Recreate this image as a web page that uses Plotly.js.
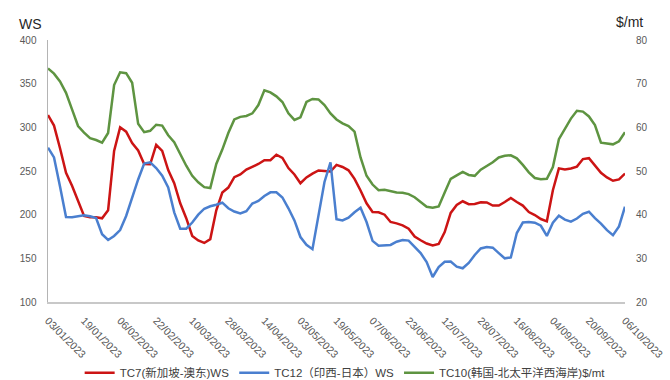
<!DOCTYPE html>
<html>
<head>
<meta charset="utf-8">
<script src="https://cdn.plot.ly/plotly-3.0.1.min.js"></script>
<style>html,body{margin:0;padding:0;background:#fff;}#chart{width:670px;height:380px;}</style>
</head>
<body>
<div id="chart"></div>
<script>
// x tick labels (every 12 business days; series sampled every 2 business days)
const tickLabels = ["03/01/2023","19/01/2023","06/02/2023","22/02/2023","10/03/2023","28/03/2023","14/04/2023","03/05/2023","19/05/2023","07/06/2023","23/06/2023","12/07/2023","28/07/2023","16/08/2023","04/09/2023","20/09/2023","06/10/2023"];
const tickPositions = [0,6,12,18,24,30,36,42,48,54,60,66,72,78,84,90,96];

const seriesNames = ["TC7(新加坡-澳东)WS", "TC12（印西-日本）WS", "TC10(韩国-北太平洋西海岸)$/mt"];

// TC7 (WS, left axis)
const tc7 = [314,302,276,248,233,216,198.5,197,197,195.8,205,273,300,295,282,273.5,258,257.7,280,273,
  251,236,213,196,175.6,170.4,167.6,172,205,225.4,231,243,246,251.7,254.6,258,262.3,262.3,268.7,265,
  253.4,246,236,242.6,247,250.6,250,249.4,257,254.6,250.8,241,227.7,213,203,202.7,200,191.6,190,187.8,
  184,175,170.7,167,164.7,166.4,180,202,211,215.3,212,212.2,214.3,214,210.5,210.5,214.5,219,214.5,210.4,
  203,199.6,195,192.4,228,253,251.8,252.8,255,263.7,264.7,256.4,248,242.7,238.8,240.3,247];

// TC12 (WS, left axis)
const tc12 = [276.7,265.5,232.3,197.3,197,198.2,199.4,198.2,196.2,177.6,171,175.6,182.4,198.5,220.2,240.3,258.5,260,253.4,244.6,
  231.1,202.7,184,184,191,200,206.8,209.6,211.4,213.7,207.3,203.6,201.3,203.9,212.7,215.7,221.4,225.6,225.6,219.7,
  207.3,193.4,174.4,165.5,160.5,198.5,237.4,260,194.7,193.4,196.5,202.8,207.9,191.6,170,164.5,164.5,165.3,169,171,
  170.3,163.2,156,145.8,128.6,140,146,146.3,140.4,138.6,144.7,153.8,161.3,163,162.2,156,150,151,179,191,
  191.6,190.8,187.3,175.6,190.7,198.8,194.4,192,195.6,201,203.4,196,189.8,182.2,176.5,186.5,209.1];

// TC10 ($/mt, right axis)
const tc10 = [73.5,72.3,70.5,67.9,64.1,60.3,58.8,57.5,57.1,56.5,58.7,69.7,72.6,72.4,70.2,60.8,58.9,59.2,60.6,60.4,
  58.2,56.6,53.9,51.2,48.9,47.4,46.3,46.1,51.6,54.9,58.7,61.8,62.4,62.6,63.2,65.1,68.5,68.0,67.1,65.8,
  63.2,61.7,62.3,65.8,66.5,66.4,65.1,63.2,61.8,60.9,60.3,59.0,53.1,48.9,46.9,45.6,45.7,45.4,45.1,45.0,
  44.7,44.0,42.9,41.8,41.6,41.9,45.1,48.2,49.0,49.8,49.1,48.9,50.3,51.1,52.0,53.1,53.5,53.6,52.9,51.4,
  49.7,48.4,48.1,48.2,50.9,57.3,59.5,62.0,63.8,63.6,62.5,60.5,56.5,56.3,56.1,56.8,58.9];

const colors = ["#CC1414", "#4A7FCF", "#5E9441"];
const tickFont = {family: "Liberation Sans, Arial, sans-serif", size: 10, color: "#595959"};

const traces = [
  {y: tc7, x0: 0, dx: 1, name: seriesNames[0], type: "scatter", mode: "lines", line: {color: colors[0], width: 2.5}, yaxis: "y"},
  {y: tc12, x0: 0, dx: 1, name: seriesNames[1], type: "scatter", mode: "lines", line: {color: colors[1], width: 2.5}, yaxis: "y"},
  {y: tc10, x0: 0, dx: 1, name: seriesNames[2], type: "scatter", mode: "lines", line: {color: colors[2], width: 2.5}, yaxis: "y2"}
];

const layout = {
  width: 670, height: 380,
  margin: {l: 48, r: 45, t: 40, b: 78, autoexpand: false},
  paper_bgcolor: "#fff", plot_bgcolor: "#fff",
  showlegend: true,
  legend: {orientation: "h", x: 0.515, xanchor: "center", y: -0.27, yanchor: "middle",
    font: {family: "Liberation Sans, Noto Sans CJK SC, sans-serif", size: 11.5, color: "#404040"},
    itemwidth: 30, tracegroupgap: 0},
  xaxis: {range: [0, 96], tickmode: "array", tickvals: tickPositions, ticktext: tickLabels, automargin: false,
    tickangle: 45, ticks: "", showgrid: false, zeroline: false, showline: true,
    linecolor: "#c8c8c8", linewidth: 1.5, tickfont: {family: "Liberation Sans, Arial, sans-serif", size: 10.5, color: "#595959"}, ticklabelstandoff: 7},
  yaxis: {range: [100, 400], dtick: 50, ticks: "", showgrid: false, zeroline: false, automargin: false,
    showline: true, linecolor: "#b4b4b4", linewidth: 1.5, tickfont: tickFont, ticklabelstandoff: 8},
  yaxis2: {range: [20, 80], dtick: 10, overlaying: "y", side: "right", ticks: "", showgrid: false, automargin: false,
    zeroline: false, showline: false, tickfont: tickFont, ticklabelstandoff: 10},
  annotations: [
    {text: "WS", xref: "paper", yref: "paper", x: 0, y: 1, xanchor: "left", xshift: -31, yshift: 26, showarrow: false,
      font: {family: "Liberation Sans, Arial, sans-serif", size: 14, color: "#262626"}},
    {text: "$/mt", xref: "paper", yref: "paper", x: 1, y: 1, xshift: -11, yshift: 28, xanchor: "left", showarrow: false,
      font: {family: "Liberation Sans, Arial, sans-serif", size: 14, color: "#262626"}}
  ]
};

Plotly.newPlot("chart", traces, layout, {displayModeBar: false, staticPlot: true});
</script>
</body>
</html>
